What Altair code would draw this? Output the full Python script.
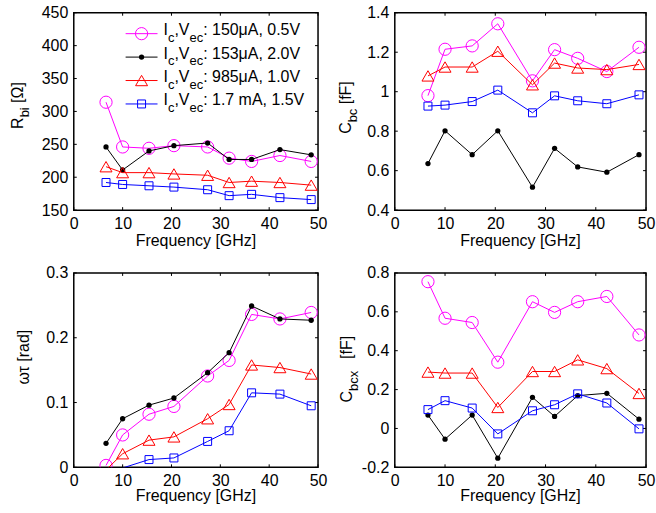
import altair as alt
import pandas as pd

FONT = "Liberation Sans"

# ---------------- data ----------------
freq = [6.6, 10.0, 15.4, 20.5, 27.4, 31.8, 36.4, 42.2, 48.6]
x_ticks = [0, 10, 20, 30, 40, 50]
x_title = "Frequency [GHz]"

currents = ["150μA", "153μA", "985μA", "1.7 mA"]
voltages = ["0.5V", "2.0V", "1.0V", "1.5V"]
colors = ["#ff00ff", "#000000", "#ff0000", "#0000ff"]
shapes = ["circle", "circle", "triangle-up", "square"]
filled = [False, True, False, False]
sizes = [150, 28, 144, 64]

# R_bi [Ohm]
rbi_150 = [314, 246, 244, 248, 246, 229, 224, 233, 224]
rbi_153 = [246, 211, 240, 248, 252, 227, 227, 242, 234]
rbi_985 = [216, 207, 207, 205, 203, 192, 194, 192, 188]
rbi_1700 = [192, 189, 187, 185, 181, 172, 174, 169, 166]
rbi_ticks = [150, 200, 250, 300, 350, 400, 450]

# C_bc [fF]
cbc_150 = [0.98, 1.215, 1.232, 1.344, 1.055, 1.213, 1.169, 1.102, 1.225]
cbc_153 = [0.636, 0.802, 0.681, 0.802, 0.516, 0.713, 0.619, 0.592, 0.681]
cbc_985 = [1.08, 1.125, 1.125, 1.205, 1.035, 1.145, 1.12, 1.112, 1.138]
cbc_1700 = [0.927, 0.932, 0.950, 1.008, 0.893, 0.979, 0.954, 0.939, 0.984]
cbc_ticks = [0.4, 0.6, 0.8, 1.0, 1.2, 1.4]

# omega*tau [rad]
wt_150 = [0.003, 0.050, 0.082, 0.094, 0.141, 0.165, 0.236, 0.229, 0.239]
wt_153 = [0.037, 0.075, 0.096, 0.107, 0.146, 0.177, 0.249, 0.229, 0.227]
wt_985 = [-0.004, 0.021, 0.042, 0.047, 0.075, 0.097, 0.158, 0.154, 0.144]
wt_1700 = [-0.02, -0.001, 0.012, 0.0145, 0.040, 0.0565, 0.115, 0.113, 0.095]
wt_ticks = [0, 0.1, 0.2, 0.3]

# C_bcx [fF]
cbcx_150 = [0.755, 0.567, 0.545, 0.341, 0.652, 0.597, 0.652, 0.679, 0.481]
cbcx_153 = [0.069, -0.055, 0.069, -0.153, 0.160, 0.062, 0.169, 0.181, 0.048]
cbcx_985 = [0.29, 0.285, 0.285, 0.108, 0.293, 0.293, 0.353, 0.308, 0.18]
cbcx_1700 = [0.097, 0.143, 0.105, -0.028, 0.091, 0.122, 0.178, 0.131, -0.002]
cbcx_ticks = [-0.2, 0, 0.2, 0.4, 0.6, 0.8]

# ---------------- helpers ----------------
WID = {"I": 278, "c": 500, ",": 278, "V": 667, "e": 556, ":": 278, " ": 278,
       "μ": 576, "A": 667, ".": 278, "m": 833, "R": 722, "b": 556, "i": 222,
       "[": 278, "]": 278, "Ω": 768, "C": 722, "x": 500, "f": 278, "F": 611}


def tw(s, size):
    return sum(WID.get(ch, 556) for ch in s) * size / 1000.0


def one_row():
    return alt.InlineData(values=[{"k": 0}])


def text_layer(txt, size, x, y, angle=0, align="left"):
    return alt.Chart(one_row()).mark_text(
        text=txt, fontSize=size, font=FONT, align=align, baseline="alphabetic",
        angle=angle, color="black", fontWeight="normal"
    ).encode(x=alt.value(x), y=alt.value(y))


def rotated_title(pieces, x0, y0, sub_shift=6):
    layers = []
    y = y0
    for txt, size, sub, gap in pieces:
        y -= gap
        layers.append(text_layer(txt, size, x0 + (sub_shift if sub else 0), y, angle=270))
        y -= tw(txt, size)
    return layers


LABEL_EXPR = ("datum.value < 0 ? '-' + format(-datum.value, '.1~f') "
              ": format(datum.value, '.1~f')")


def panel(series_vals, ydom, yticks, w, h, title_gap, extra_layers):
    xs = alt.Scale(domain=[0, 50], nice=False, zero=False)
    ys = alt.Scale(domain=ydom, nice=False, zero=False)
    xaxis = alt.Axis(values=x_ticks, ticks=False, tickSize=0, domain=False, grid=False,
                     labelFontSize=16, labelFont=FONT, labelColor="black", labelPadding=5,
                     labelFlush=False, labelOverlap=False, title=None)
    yaxis = alt.Axis(values=yticks, ticks=False, tickSize=0, domain=False, grid=False,
                     labelFontSize=16, labelFont=FONT, labelColor="black", labelPadding=6,
                     labelOverlap=False, labelExpr=LABEL_EXPR, title=None)
    X = alt.X("freq:Q", scale=xs, axis=xaxis)
    Y = alt.Y("value:Q", scale=ys, axis=yaxis)

    layers = []
    # inward ticks on all four sides
    tx = alt.Chart(pd.DataFrame({"freq": x_ticks}))
    ty = alt.Chart(pd.DataFrame({"value": yticks}))
    layers.append(tx.mark_rule(color="black", strokeWidth=1).encode(
        x=X, y=alt.value(h - 3), y2=alt.value(h)))
    layers.append(tx.mark_rule(color="black", strokeWidth=1).encode(
        x=X, y=alt.value(0), y2=alt.value(3)))
    layers.append(ty.mark_rule(color="black", strokeWidth=1).encode(
        y=Y, x=alt.value(0), x2=alt.value(3)))
    layers.append(ty.mark_rule(color="black", strokeWidth=1).encode(
        y=Y, x=alt.value(w - 3), x2=alt.value(w)))

    for i, vals in enumerate(series_vals):
        base = alt.Chart(pd.DataFrame({"freq": freq, "value": vals}))
        layers.append(base.mark_line(color=colors[i], strokeWidth=1, clip=True).encode(x=X, y=Y))
        layers.append(
            base.transform_filter(f"datum.value >= {ydom[0]} && datum.value <= {ydom[1]}")
            .mark_point(shape=shapes[i], filled=filled[i], size=sizes[i], color=colors[i],
                        strokeWidth=1, opacity=1, clip=True)
            .encode(x=X, y=Y)
        )
    # x-axis title
    layers.append(text_layer(x_title, 16, w / 2, h + title_gap, align="center"))
    layers += extra_layers
    return alt.layer(*layers).properties(width=w, height=h)


# ---------------- legend (panel 1) ----------------
legend_layers = []
row_y = [21, 44.5, 68, 91.5]
for i in range(4):
    ly = row_y[i]
    legend_layers.append(alt.Chart(one_row()).mark_rule(color=colors[i], strokeWidth=1).encode(
        x=alt.value(52), x2=alt.value(84), y=alt.value(ly)))
    legend_layers.append(alt.Chart(one_row()).mark_point(
        shape=shapes[i], filled=filled[i], size=sizes[i], color=colors[i],
        strokeWidth=1, opacity=1).encode(x=alt.value(68), y=alt.value(ly)))
    pieces = [("I", 16, False), ("c", 13, True), (",V", 16, False), ("ec", 13, True),
              (": " + currents[i] + ", " + voltages[i], 16, False)]
    x = 90
    for txt, size, sub in pieces:
        legend_layers.append(text_layer(txt, size, x, ly + (8 if sub else 1.5)))
        x += tw(txt, size)

# ---------------- y titles ----------------
t1 = rotated_title([("R", 16, False, 0), ("bi", 13, True, 0), ("[Ω]", 16, False, 4.4)], -51, 116.5)
t2 = rotated_title([("C", 16, False, 0), ("bc", 13, True, 0), ("[fF]", 16, False, 4.4)], -44, 121.5)
t3 = rotated_title([("ωτ [rad]", 16, False, 0)], -45, 112)
t4 = rotated_title([("C", 16, False, 0), ("bcx", 13, True, 0), ("[fF]", 16, False, 12)], -43, 130)

p1 = panel([rbi_150, rbi_153, rbi_985, rbi_1700], [150, 450], rbi_ticks, 245, 198, 36, t1 + legend_layers)
p2 = panel([cbc_150, cbc_153, cbc_985, cbc_1700], [0.4, 1.4], cbc_ticks, 252, 198, 36, t2)
p3 = panel([wt_150, wt_153, wt_985, wt_1700], [0, 0.3], wt_ticks, 245, 195, 33.5, t3)
p4 = panel([cbcx_150, cbcx_153, cbcx_985, cbcx_1700], [-0.2, 0.8], cbcx_ticks, 252, 195, 33.5, t4)

chart = alt.concat(
    p1, p2, p3, p4, columns=2, bounds="flush",
    spacing={"row": 63, "column": 77},
).properties(
    padding={"left": 9, "top": 3, "right": 0, "bottom": 0},
    background="white",
).configure_view(stroke="black", strokeWidth=1.5)

chart.save("out.html", embed_options={"renderer": "svg", "actions": False})
